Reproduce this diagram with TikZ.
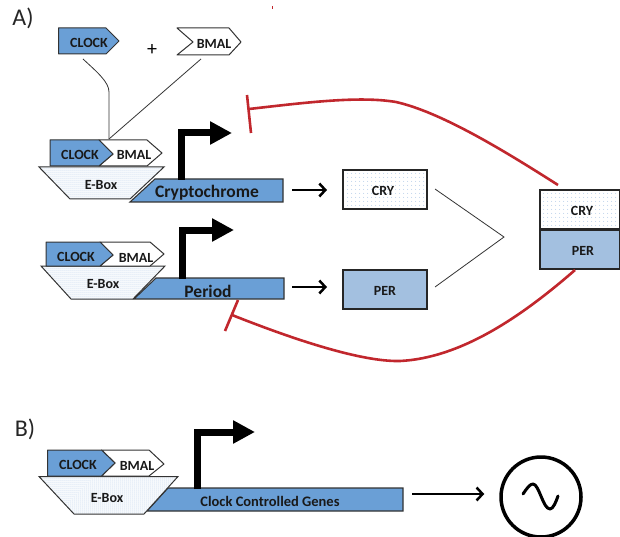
\documentclass[tikz,border=0pt]{standalone}
\usepackage{fontspec}
\setmainfont{Carlito}
\usetikzlibrary{arrows.meta,patterns.meta}
\definecolor{geneblue}{HTML}{6A9FD6}
\definecolor{perblue}{HTML}{A6C1E0}
\definecolor{dotblue}{HTML}{9DBDE2}
\definecolor{inhibred}{HTML}{C1272D}
\definecolor{edgegrey}{HTML}{333333}
\tikzset{
  clockshape/.style={fill=geneblue, draw=edgegrey, line width=1pt, line join=round},
  bmalshape/.style={fill=white, draw=edgegrey, line width=1pt, line join=round},
  eboxshape/.style={preaction={fill=white}, preaction={pattern={Dots[radius=0.5pt,distance=2pt]}, pattern color=dotblue}, draw=edgegrey, line width=1pt},
  geneshape/.style={fill=geneblue, draw=edgegrey, line width=1.1pt},
  tagtext/.style={font=\bfseries\fontsize{14}{15}\selectfont, text=black!90, inner sep=0pt},
  boxtext/.style={font=\bfseries\fontsize{14}{15}\selectfont, text=black!90, inner sep=0pt},
  genetext/.style={font=\bfseries\fontsize{17.5}{18}\selectfont, text=black!90, inner sep=0pt},
  smallgene/.style={font=\bfseries\fontsize{14.5}{15}\selectfont, text=black!90, inner sep=0pt},
  paneltext/.style={font=\fontsize{24}{26}\selectfont, text=black!85, inner sep=0pt},
  crybox/.style={rectangle, preaction={fill=white}, preaction={pattern={Dots[radius=0.5pt,distance=4pt]}, pattern color=dotblue}, draw=black!85, line width=2pt, minimum width=84pt, minimum height=39pt, inner sep=0pt},
  perbox/.style={rectangle, preaction={fill=perblue}, preaction={pattern={Dots[radius=0.6pt,distance=2pt]}, pattern color=dotblue}, draw=black!85, line width=2pt, minimum width=84pt, minimum height=39pt, inner sep=0pt},
  promoter/.style={line width=7pt, line join=miter, -{Triangle[length=22pt,width=22pt]}},
  readout/.style={line width=2.5pt, -{Straight Barb[length=6pt,width=13pt]}},
  joinline/.style={draw=black!80, line width=0.8pt},
  inhibit/.style={draw=inhibred, line width=2.6pt},
}
\begin{document}
\begin{tikzpicture}[x=1pt,y=-1pt]
\useasboundingbox (0,0) rectangle (620,537);
\node [paneltext] (labelA) at (23,18) {A)};
\node [paneltext] (labelB) at (25,429) {B)};
\draw [inhibit, line width=1pt] (272,6) -- (272,9);

\draw [clockshape] (58.5,28) -- (106,28) -- (119,41) -- (106,54) -- (58.5,54) -- cycle;
\draw [bmalshape] (177,28) -- (229,28) -- (241,42) -- (229,55) -- (177,55) -- (193,42) -- cycle;
\node [tagtext] (clockTop) at (89,43) {CLOCK};
\node [tagtext] (bmalTop) at (214,44) {BMAL};
\node [inner sep=0pt, font=\fontsize{20}{20}\selectfont] (plusTop) at (152,50) {+};
\coordinate (clockOut) at (83,59);
\coordinate (bmalOut) at (201,59);
\coordinate (bindA) at (109,139);
\draw [joinline] (clockOut) .. controls (97,72) and (109,82) .. (109,92) -- (bindA);
\draw [joinline] (bmalOut) -- (bindA);

\draw [geneshape] (130,202) -- (155,179) -- (283,179) -- (283,202) -- cycle;
\draw [eboxshape] (39,167) -- (164,167) -- (130,199) -- (70,199) -- cycle;
\draw [bmalshape] (99,140) -- (147,140) -- (162,153) -- (147,166) -- (99,166) -- (113,154) -- cycle;
\draw [clockshape] (50,140) -- (99,140) -- (113,154) -- (99,166) -- (50,166) -- cycle;
\node [tagtext] (clockA) at (80,155) {CLOCK};
\node [tagtext] (bmalA) at (134,155) {BMAL};
\node [tagtext] (eboxA) at (101,185) {E-Box};
\node [genetext] (cryGene) at (207,193) {Cryptochrome};
\coordinate (cryStart) at (181,180);
\coordinate (cryBend) at (181,133);
\coordinate (cryTip) at (232,133);
\draw [promoter] (cryStart) -- (cryBend) -- (cryTip);

\draw [geneshape] (134,299) -- (156,278) -- (284,278) -- (284,299) -- cycle;
\draw [eboxshape] (41,266) -- (165,266) -- (133,299) -- (71,299) -- cycle;
\draw [bmalshape] (100,242) -- (150,242) -- (164,254) -- (150,266) -- (100,266) -- (113,255) -- cycle;
\draw [clockshape] (46,242) -- (100,242) -- (113,255) -- (100,266) -- (46,266) -- cycle;
\node [tagtext] (clockB) at (76,257) {CLOCK};
\node [tagtext] (bmalB) at (136,258) {BMAL};
\node [tagtext] (eboxB) at (103,284) {E-Box};
\node [genetext] (perGene) at (208,291) {Period};
\coordinate (perStart) at (182,279);
\coordinate (perBend) at (182,230);
\coordinate (perTip) at (234,230);
\draw [promoter] (perStart) -- (perBend) -- (perTip);

\node [crybox] (cryA) at (384.5,189.5) {};
\node [perbox] (perA) at (384.5,289) {};
\node [boxtext] (cryAText) at (383,191) {CRY};
\node [boxtext] (perAText) at (385,290.5) {PER};
\coordinate (cryFrom) at (292,190);
\coordinate (perFrom) at (292,287);
\draw [readout] (cryFrom) -- (327,190);
\draw [readout] (perFrom) -- (327,287);
\coordinate (joinTop) at (435,189);
\coordinate (joinBot) at (435,287);
\coordinate (joinTip) at (504,237);
\draw [joinline] (joinTop) -- (joinTip) -- (joinBot);

\node [crybox, minimum width=80pt] (cryC) at (580,209.5) {};
\node [perbox, minimum width=80pt] (perC) at (580,249) {};
\node [boxtext] (cryCText) at (582,211) {CRY};
\node [boxtext] (perCText) at (583,250.5) {PER};
\coordinate (cryBarA) at (247,95);
\coordinate (cryBarB) at (251,133);
\coordinate (cryBarMid) at (249,109);
\coordinate (cryEnd) at (558,185);
\coordinate (perBarA) at (238,300);
\coordinate (perBarB) at (225,331);
\coordinate (perBarMid) at (232,315);
\coordinate (perEnd) at (575,270);
\draw [inhibit] (cryBarA) -- (cryBarB);
\draw [inhibit] (cryBarMid) .. controls (310,102) and (360,96) .. (396,102) .. controls (440,112) and (500,148) .. (cryEnd);
\draw [inhibit] (perBarA) -- (perBarB);
\draw [inhibit] (perBarMid) .. controls (290,338) and (360,362) .. (400,361) .. controls (460,358) and (520,318) .. (perEnd);

\draw [geneshape] (147,511) -- (168,488) -- (403,488) -- (403,511) -- cycle;
\draw [eboxshape] (39,476.5) -- (178,476.5) -- (144,514) -- (74,514) -- cycle;
\draw [bmalshape] (101.5,450) -- (149,450) -- (164,464) -- (149,476) -- (101.5,476) -- (115,463) -- cycle;
\draw [clockshape] (47.5,450) -- (101.5,450) -- (115,463) -- (101.5,476) -- (47.5,476) -- cycle;
\node [tagtext] (clockD) at (78,465) {CLOCK};
\node [tagtext] (bmalD) at (137,466) {BMAL};
\node [tagtext] (eboxD) at (107,498) {E-Box};
\node [smallgene] (ccGene) at (270,501) {Clock Controlled Genes};
\coordinate (ccStart) at (197,489);
\coordinate (ccBend) at (197,432);
\coordinate (ccTip) at (255,432);
\draw [promoter] (ccStart) -- (ccBend) -- (ccTip);
\coordinate (ccFrom) at (412,494);
\node [circle, draw=black, line width=3.5pt, minimum size=80pt, inner sep=0pt] (osc) at (541,497) {};
\draw [readout] (ccFrom) -- ([xshift=-15pt]osc.west |- ccFrom);
\draw [line width=3pt, line cap=round, line join=round] (523,494) .. controls (527,488) and (530,484) .. (533,484) .. controls (539,484) and (543,509) .. (550,509) .. controls (553,509) and (556,502) .. (558,496);
\end{tikzpicture}
\end{document}
